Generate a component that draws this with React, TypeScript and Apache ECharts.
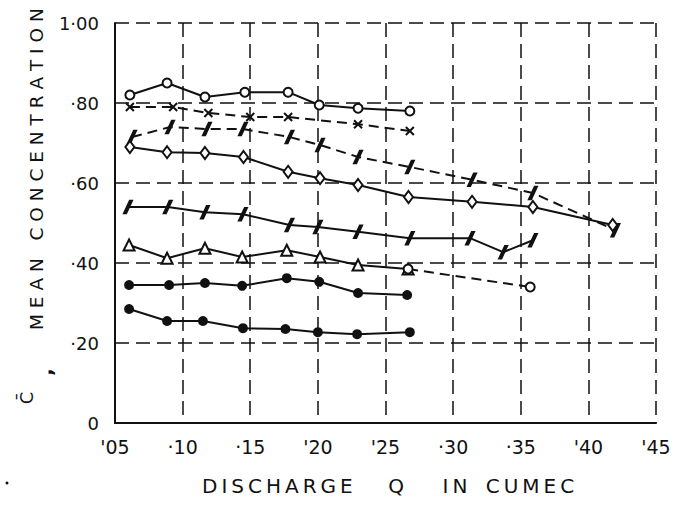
import React, { useEffect, useRef } from "react";
import * as echarts from "echarts";

// Tick labels
const xTickLabels = ["'05", "·10", "·15", "'20", "'25", "·30", "·35", "'40", "'45"];
const yTickLabels = ["0", "·20", "·40", "·60", "·80", "1·00"];

// Series values (discharge Q in cumec, mean concentration)
const s1X = [0.061, 0.0885, 0.1165, 0.146, 0.178, 0.201, 0.2297, 0.268];
const s1Y = [0.82, 0.85, 0.815, 0.827, 0.827, 0.795, 0.787, 0.78];

const s2X = [0.061, 0.093, 0.119, 0.15, 0.178, 0.2297, 0.268];
const s2Y = [0.79, 0.79, 0.775, 0.765, 0.765, 0.747, 0.73];

const s3X = [0.0626, 0.0907, 0.118, 0.1446, 0.179, 0.2016, 0.2297, 0.268, 0.314, 0.359, 0.42];
const s3Y = [0.715, 0.74, 0.735, 0.735, 0.715, 0.695, 0.665, 0.64, 0.608, 0.575, 0.482];

const s4X = [0.061, 0.0885, 0.1165, 0.145, 0.178, 0.2016, 0.2297, 0.267, 0.314, 0.359, 0.418];
const s4Y = [0.69, 0.677, 0.675, 0.665, 0.628, 0.612, 0.595, 0.565, 0.553, 0.54, 0.495];

const s5X = [0.0596, 0.089, 0.1165, 0.1446, 0.179, 0.2, 0.2297, 0.268, 0.3125, 0.337, 0.359];
const s5Y = [0.54, 0.54, 0.527, 0.522, 0.495, 0.49, 0.478, 0.462, 0.462, 0.427, 0.457];

const s6X = [0.0604, 0.0885, 0.1165, 0.144, 0.177, 0.2016, 0.2297, 0.2667];
const s6Y = [0.445, 0.412, 0.437, 0.415, 0.432, 0.415, 0.395, 0.385];
const s6extX = [0.2667, 0.357];
const s6extY = [0.385, 0.34];

const s7X = [0.0604, 0.09, 0.1165, 0.144, 0.177, 0.201, 0.2297, 0.266];
const s7Y = [0.345, 0.345, 0.35, 0.343, 0.362, 0.353, 0.325, 0.32];

const s8X = [0.0604, 0.0885, 0.115, 0.1446, 0.176, 0.2, 0.229, 0.268];
const s8Y = [0.285, 0.255, 0.255, 0.237, 0.235, 0.227, 0.222, 0.227];

const pair = (xs: number[], ys: number[]) => xs.map((x, i) => [x, ys[i]]);

const INK = "#111";
const FONT = "'DejaVu Sans', sans-serif";
const X_SYM = "path://M0,0L10,10M10,0L0,10";
const SLASH_SYM = "path://M7,0L10,0L3,12L0,12Z";
const TS = "\u2009"; // thin space used as letter spacing

const spaced = (w: string) => w.split("").join(TS);

function line(
  data: number[][],
  symbol: string,
  size: number | number[],
  opts: { dashed?: boolean; filled?: boolean } = {}
) {
  const filled = opts.filled ?? false;
  return {
    type: "line",
    data,
    symbol,
    symbolSize: size,
    showSymbol: true,
    lineStyle: { color: INK, width: 2, type: opts.dashed ? [10, 6] : "solid" },
    itemStyle: {
      color: filled ? INK : "#fff",
      borderColor: INK,
      borderWidth: 2,
    },
    z: 3,
  };
}

export default function App() {
  const ref = useRef<HTMLDivElement>(null);
  useEffect(() => {
    if (!ref.current) return;
    const chart = echarts.init(ref.current, null, { renderer: "svg" });
    const word = (text: string, x: number, align: string) => ({
      type: "text",
      x,
      y: 486,
      style: {
        text: spaced(text),
        fill: INK,
        font: `20px ${FONT}`,
        textAlign: align,
        textVerticalAlign: "middle",
      },
    });
    chart.setOption({
      animation: false,
      backgroundColor: "#fff",
      grid: { left: 115, right: 19, top: 23, bottom: 82 },
      xAxis: {
        type: "value",
        min: 0.05,
        max: 0.45,
        interval: 0.05,
        axisLine: { show: true, lineStyle: { color: INK, width: 2 } },
        axisTick: { show: false },
        splitLine: { show: true, lineStyle: { color: INK, width: 1.5, type: [14, 7] } },
        axisLabel: {
          color: INK,
          fontFamily: FONT,
          fontSize: 19,
          margin: 14,
          formatter: (v: number) => xTickLabels[Math.round((v - 0.05) / 0.05)] ?? "",
        },
      },
      yAxis: {
        type: "value",
        min: 0,
        max: 1,
        interval: 0.2,
        axisLine: { show: true, lineStyle: { color: INK, width: 2 } },
        axisTick: { show: false },
        splitLine: { show: true, lineStyle: { color: INK, width: 1.5, type: [14, 7] } },
        axisLabel: {
          color: INK,
          fontFamily: FONT,
          fontSize: 18,
          margin: 16,
          formatter: (v: number) => yTickLabels[Math.round(v / 0.2)] ?? "",
        },
      },
      series: [
        line(pair(s1X, s1Y), "circle", 9),
        line(pair(s2X, s2Y), X_SYM, 8, { dashed: true }),
        line(pair(s3X, s3Y), SLASH_SYM, [8, 12], { dashed: true, filled: true }),
        line(pair(s4X, s4Y), "diamond", [9, 12]),
        line(pair(s5X, s5Y), SLASH_SYM, [8, 12], { filled: true }),
        line(pair(s6X, s6Y), "triangle", 11),
        line(pair(s6extX, s6extY), "circle", 9, { dashed: true }),
        line(pair(s7X, s7Y), "circle", 8, { filled: true }),
        line(pair(s8X, s8Y), "circle", 8, { filled: true }),
      ],
      graphic: [
        word("DISCHARGE", 202, "left"),
        word("Q", 396, "center"),
        word("IN", 455, "center"),
        word("CUMEC", 530, "center"),
        {
          type: "text",
          x: 36,
          y: 330,
          rotation: Math.PI / 2,
          style: {
            text: "M E A N   C O N C E N T R A T I O N",
            fill: INK,
            font: `18.5px ${FONT}`,
            textAlign: "left",
            textVerticalAlign: "middle",
          },
        },
        {
          type: "text",
          x: 45,
          y: 372,
          rotation: Math.PI / 2,
          style: {
            text: ",",
            fill: INK,
            font: `bold 20px ${FONT}`,
            textAlign: "center",
            textVerticalAlign: "middle",
          },
        },
        {
          type: "text",
          x: 26,
          y: 398,
          rotation: Math.PI / 2,
          style: {
            text: "C̄",
            fill: INK,
            font: `18px ${FONT}`,
            textAlign: "center",
            textVerticalAlign: "middle",
          },
        },
        {
          type: "circle",
          shape: { cx: 7, cy: 483, r: 1.5 },
          style: { fill: INK },
        },
      ],
    });
    return () => chart.dispose();
  }, []);
  return <div ref={ref} style={{ width: 675, height: 505, position: "absolute", left: 0, top: 0 }} />;
}
